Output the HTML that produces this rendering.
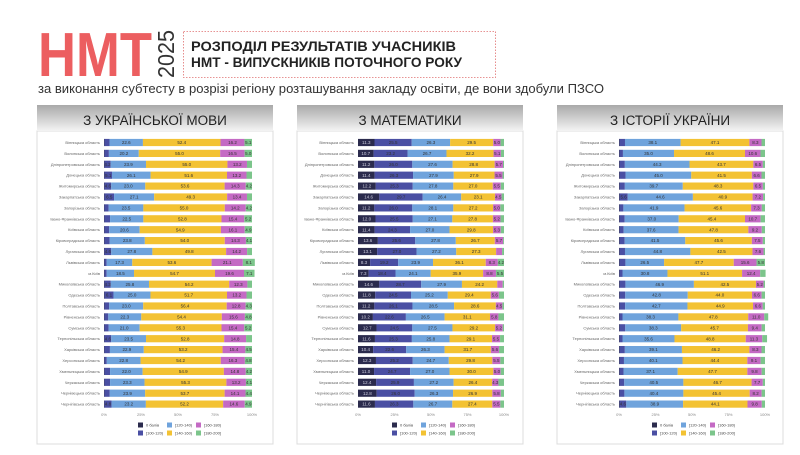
<!DOCTYPE html>
<html><head><meta charset="utf-8"><style>
body{margin:0;width:800px;height:450px;background:#fff;overflow:hidden;font-family:"Liberation Sans",sans-serif}
</style></head><body>
<svg id="s" width="800" height="450" xmlns="http://www.w3.org/2000/svg" font-family="Liberation Sans, sans-serif">
<defs><linearGradient id="g" x1="0" y1="0" x2="0" y2="1"><stop offset="0" stop-color="#a9a9a9"/><stop offset="1" stop-color="#f4f4f4"/></linearGradient></defs>
<text x="38" y="76" font-size="62" font-weight="bold" fill="#ec5e60" textLength="114" lengthAdjust="spacingAndGlyphs">НМТ</text>
<text transform="translate(174,78) rotate(-90)" font-size="23" fill="#333" textLength="48" lengthAdjust="spacingAndGlyphs">2025</text>
<rect x="183.5" y="31.5" width="312" height="46" fill="none" stroke="#e07070" stroke-dasharray="1.5,1.5" stroke-width="0.8"/>
<text x="191" y="51" font-size="14" font-weight="bold" fill="#222" textLength="265" lengthAdjust="spacingAndGlyphs">РОЗПОДІЛ РЕЗУЛЬТАТІВ УЧАСНИКІВ</text>
<text x="191" y="67" font-size="14" font-weight="bold" fill="#222" textLength="271" lengthAdjust="spacingAndGlyphs">НМТ - ВИПУСКНИКІВ ПОТОЧНОГО РОКУ</text>
<text x="38" y="93" font-size="13" fill="#333" textLength="566" lengthAdjust="spacingAndGlyphs">за виконання субтесту в розрізі регіону розташування закладу освіти, де вони здобули ПЗСО</text>
<g id="p"></g>
</svg>
<script>
const R=["Вінницька область","Волинська область","Дніпропетровська область","Донецька область","Житомирська область","Закарпатська область","Запорізька область","Івано-Франківська область","Київська область","Кіровоградська область","Луганська область","Львівська область","м.Київ","Миколаївська область","Одеська область","Полтавська область","Рівненська область","Сумська область","Тернопільська область","Харківська область","Херсонська область","Хмельницька область","Черкаська область","Чернівецька область","Чернігівська область"];
const C=["#2b2b4d","#4a4fa3","#6fa3dc","#f3c233","#c46ac4","#7cc58b"];
const U=[[22.6,52.4,16.2,5.1],[20.2,55,16.5,5],[23.9,55,13.2,3.4],[26.1,51.6,13.2,3.7],[23,53.6,14.3,4.2],[27.1,49.3,13.4,3.4],[23.5,55,14.2,4.2],[22.5,52.8,15.4,5.2],[20.6,54.9,16.1,4.9],[23.8,54,14.3,4.1],[27.8,49.8,14.2,3.3],[17.3,53.6,21.1,8.1],[18.5,54.7,19.6,7.1],[25.8,54.2,12.3,3.1],[25,51.7,13.2,3.7],[23,56.4,12.8,4.3],[22.3,54.4,15.6,4.8],[21,55.3,15.4,5.2],[23.5,52.8,14.8,4],[22.9,53.2,15.4,4.5],[22.8,54.2,16.3,4.8],[22,54.9,14.8,4.2],[23.3,55.3,13.2,4.1],[23.9,53.7,14.1,4.4],[23.2,52.2,14.6,4.9]];
const M=[[11.3,25.5,26.3,29.5,5,2.4],[10.6,23,26.4,31.9,5,2.1],[11.2,26,27.6,28.8,5.7,0.7],[11.4,26.3,27.9,27.9,5.5,1],[12.2,25.3,27.8,27,5.5,2.2],[14.6,29.7,26.4,23.1,4.5,1.7],[11.2,26,28.1,27.2,5,2.5],[12,25.5,27.1,27.8,5.2,2.4],[11.4,24.3,27,29.8,5.3,2.2],[13.6,25.6,27.8,26.7,5.7,0.6],[13.1,27,27.2,27.3,4.1,1.3],[8.3,19.2,23.9,36.1,8.3,4.2],[7.3,18.4,24.1,35.9,8.8,5.5],[14.6,28.7,27.9,24.2,3.7,0.9],[11.8,24.5,25.2,29.4,5.6,3.5],[11.2,26.1,28.5,28.6,4.5,1.1],[10.2,22.6,26.5,31.1,5.8,3.8],[12.7,24.5,27.5,29.2,5.2,0.9],[11.6,25.3,25.8,29.1,5.5,2.7],[10.4,22.6,26.3,31.7,5.6,3.4],[12.3,25.2,24.7,29.8,5.5,2.5],[11,24.7,27,30,5,2.3],[12.4,25.9,27.2,26.4,4.3,3.8],[12.8,26,26.3,26.9,5.8,2.2],[11.6,26.3,26.7,27.4,5.5,2.5]];
const H=[[38.1,47.1,8.3,2.4],[35,48.6,10.6,3.1],[44.3,43.7,6.5,1.5],[45,41.5,6.6,2.4],[39.7,48.3,6.5,1.5],[44.6,40.9,7.2,1.3],[41.9,45.6,7.3,2.2],[37,45.4,10.7,3],[37.6,47.8,9.2,2.2],[41.5,45.6,7.5,1.5],[44.8,42.5,7.6,1],[26.5,47.7,15.6,5.8],[30.8,51.1,12.4,3.7],[46.9,42.5,5.2,1],[42.8,44,6.6,2.3],[42.7,44.9,6.6,1.6],[38.3,47.8,11,2.7],[38.3,45.7,9.4,2.3],[35.6,48.8,11.3,3.3],[39.1,46.2,8.3,2.4],[40.1,44.4,9.1,3],[37.1,47.7,9.8,2.3],[40.5,46.7,7.7,1.5],[40.4,45.4,8.2,2.3],[38.9,44.1,9.8,2.2]];
function u(r){let s=r.reduce((a,b)=>a+b,0);return [0.3,Math.max(100-s-0.3,1.5),...r]}
function h(r){let s=r.reduce((a,b)=>a+b,0);return [0.4,Math.max(100-s-0.4,2),...r]}
function nm(r){let s=r.reduce((a,b)=>a+b,0);return r.map(v=>v*100/s)}
const P=[{t:"З УКРАЇНСЬКОЇ МОВИ",px:37,pw:236,bx:104,bw:148,d:U.map(u),lx:138},
{t:"З МАТЕМАТИКИ",px:297,pw:226,bx:358,bw:146,d:M.map(nm),lx:392},
{t:"З ІСТОРІЇ УКРАЇНИ",px:557,pw:226,bx:619,bw:146,d:H.map(h),lx:652}];
const L=["0 балів","[120-140)","[160-180)","[100-120)","[140-160)","[180-200]"],LC=[0,2,4,1,3,5];
let o="";
for(const p of P){
o+=`<rect x="${p.px}" y="131" width="${p.pw}" height="313" fill="#fff" stroke="#dcdcdc" stroke-width="1"/>`;
o+=`<rect x="${p.px}" y="105" width="${p.pw}" height="26" fill="url(#g)"/>`;
o+=`<text x="${p.px+p.pw/2}" y="125" font-size="13.5" text-anchor="middle" fill="#222">${p.t}</text>`;
p.d.forEach((r,i)=>{const y=142.5+i*10.9;let x=p.bx;
o+=`<text x="${p.bx-4}" y="${y+1.5}" font-size="4" text-anchor="end" fill="#666">${R[i]}</text>`;
r.forEach((v,k)=>{const w=v*p.bw/100;o+=`<rect x="${x.toFixed(2)}" y="${y-3.6}" width="${w.toFixed(2)}" height="7.2" fill="${C[k]}"/>`;
if(w>6)o+=`<text x="${(x+w/2).toFixed(2)}" y="${y+1.6}" font-size="4.5" text-anchor="middle" fill="${k<1?'#ccd':'#333'}">${v.toFixed(1)}</text>`;x+=w;});});
for(let k=0;k<=4;k++)o+=`<text x="${p.bx+k*p.bw/4}" y="416" font-size="4" text-anchor="middle" fill="#888">${k*25}%</text>`;
L.forEach((l,j)=>{const cx=p.lx+(j%3)*29,cy=j<3?425:433;o+=`<rect x="${cx}" y="${cy-2.5}" width="5" height="5" fill="${C[LC[j]]}"/><text x="${cx+8}" y="${cy+1.5}" font-size="4" fill="#444">${l}</text>`;});
}
document.getElementById("p").innerHTML=o;
</script>
</body></html>
